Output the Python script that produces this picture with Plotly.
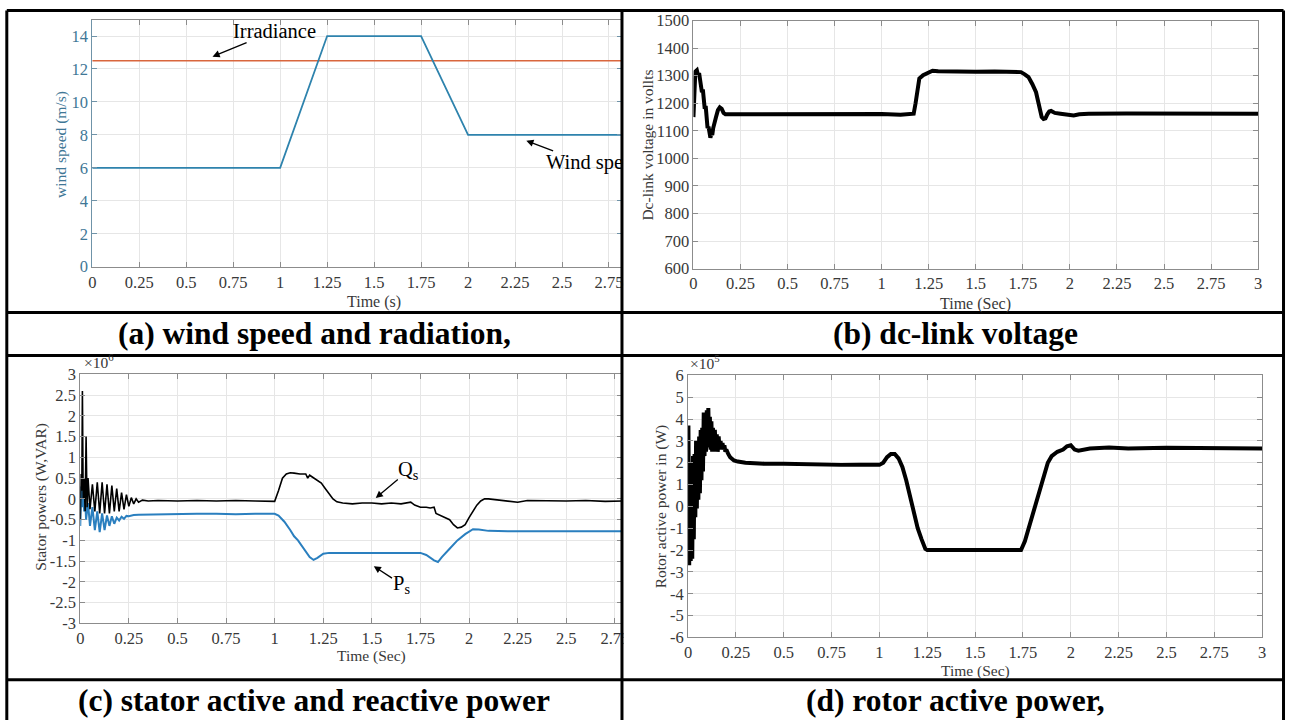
import plotly.graph_objects as go

W, H = 1292, 720

# ---------------- data ----------------
t_wind = [0, 1, 1.25, 1.75, 2, 3]
wind_speed = [6, 6, 14, 14, 8, 8]
t_irr = [0, 3]
irradiance = [12.5, 12.5]

t_vdc = [0, 0.005, 0.01, 0.018, 0.025, 0.03, 0.035, 0.04, 0.045, 0.05, 0.055, 0.06, 0.065,
         0.07, 0.075, 0.08, 0.085, 0.09, 0.095, 0.1, 0.105, 0.11, 0.12, 0.13, 0.14, 0.15,
         0.16, 0.17, 0.2, 0.4, 0.6, 0.8, 1.0, 1.1, 1.15, 1.17, 1.18, 1.19, 1.2, 1.22, 1.25,
         1.27, 1.3, 1.4, 1.5, 1.6, 1.7, 1.74, 1.76, 1.78, 1.8, 1.82, 1.83, 1.84, 1.85, 1.86,
         1.87, 1.88, 1.89, 1.9, 1.92, 1.95, 2.0, 2.02, 2.05, 2.1, 2.3, 2.5, 2.7, 2.9, 3.0]
v_dc = [1150, 1250, 1315, 1320, 1300, 1310, 1280, 1270, 1240, 1250, 1210, 1180, 1190,
        1140, 1110, 1115, 1080, 1075, 1090, 1085, 1110, 1120, 1150, 1175, 1185, 1180,
        1165, 1160, 1160, 1162, 1162, 1162, 1161, 1158, 1160, 1162, 1200, 1250, 1290, 1302, 1310,
        1318, 1316, 1314, 1314, 1315, 1315, 1313, 1305, 1295, 1270, 1240, 1210, 1180, 1150, 1143,
        1145, 1160, 1170, 1172, 1165, 1162, 1158, 1156, 1160, 1162, 1163, 1162, 1162, 1163, 1162]

t_q = [0, 0.004, 0.008, 0.011, 0.015, 0.02, 0.025, 0.03, 0.035, 0.04, 0.05, 0.0625, 0.075,
       0.0875, 0.1, 0.1125, 0.125, 0.1375, 0.15, 0.1625, 0.175, 0.1875, 0.2, 0.2125, 0.225,
       0.2375, 0.25, 0.2625, 0.275, 0.2875, 0.3, 0.32, 0.35, 0.4, 0.5, 0.6, 0.7, 0.8, 0.9,
       1.0, 1.02, 1.04, 1.06, 1.08, 1.1, 1.13, 1.16, 1.17, 1.18, 1.2, 1.22, 1.24, 1.26, 1.28,
       1.3, 1.32, 1.35, 1.4, 1.45, 1.5, 1.55, 1.6, 1.65, 1.7, 1.72, 1.75, 1.78, 1.8, 1.82,
       1.83, 1.86, 1.88, 1.9, 1.92, 1.94, 1.96, 1.98, 2.0, 2.02, 2.04, 2.06, 2.08, 2.1, 2.15,
       2.2, 2.25, 2.3, 2.4, 2.5, 2.6, 2.7, 2.8, 3.0]
q_s = [-0.5, 0.6, 0.2, 2.6, 0.0, 0.5, -0.3, 1.5, -0.2, 0.5, -0.25, 0.35, -0.3,
       0.4, -0.35, 0.4, -0.35, 0.35, -0.35, 0.32, -0.3, 0.25, -0.3, 0.15, -0.25,
       0.1, -0.18, 0.03, -0.12, 0.0, -0.08, -0.03, -0.05, -0.04, -0.05, -0.04, -0.05, -0.04, -0.05,
       -0.06, 0.2, 0.5, 0.6, 0.63, 0.62, 0.6, 0.6, 0.5, 0.57, 0.5, 0.45, 0.38, 0.25, 0.12,
       0.0, -0.07, -0.1, -0.12, -0.1, -0.1, -0.12, -0.1, -0.12, -0.08, -0.15, -0.2, -0.2, -0.22, -0.2,
       -0.35, -0.42, -0.45, -0.5, -0.62, -0.7, -0.68, -0.62, -0.45, -0.3, -0.15, -0.05, 0.0, 0.0, -0.03,
       -0.05, -0.08, -0.04, -0.05, -0.05, -0.04, -0.06, -0.05, -0.05]

t_p = [0, 0.005, 0.01, 0.015, 0.02, 0.025, 0.03, 0.04, 0.05, 0.0625, 0.075, 0.0875, 0.1,
       0.1125, 0.125, 0.1375, 0.15, 0.1625, 0.175, 0.1875, 0.2, 0.2125, 0.225, 0.2375, 0.25,
       0.275, 0.3, 0.4, 0.5, 0.6, 0.7, 0.8, 0.9, 1.0, 1.02, 1.05, 1.08, 1.1, 1.12, 1.15, 1.18,
       1.2, 1.22, 1.25, 1.28, 1.35, 1.5, 1.6, 1.7, 1.75, 1.78, 1.82, 1.84, 1.86, 1.9, 1.94,
       1.98, 2.0, 2.02, 2.05, 2.1, 2.2, 2.5, 3.0]
p_s = [-0.65, 0.3, -0.2, 0.2, -0.3, 0.0, -0.5, -0.1, -0.65, -0.2, -0.75, -0.3, -0.8,
       -0.35, -0.75, -0.4, -0.65, -0.42, -0.6, -0.45, -0.52, -0.43, -0.48, -0.41, -0.42,
       -0.39, -0.38, -0.37, -0.36, -0.36, -0.36, -0.37, -0.36, -0.36, -0.4, -0.55, -0.75, -0.9, -1.0, -1.2, -1.4,
       -1.47, -1.42, -1.32, -1.3, -1.3, -1.3, -1.3, -1.3, -1.3, -1.35, -1.48, -1.52, -1.4, -1.2, -1.0,
       -0.85, -0.78, -0.73, -0.74, -0.77, -0.78, -0.78, -0.78]

t_rot = [0, 0.002, 0.006, 0.01, 0.014, 0.018, 0.022, 0.026, 0.03, 0.034, 0.038, 0.042, 0.046,
         0.05, 0.054, 0.058, 0.062, 0.066, 0.07, 0.074, 0.078, 0.082, 0.086, 0.09, 0.094, 0.098,
         0.102, 0.106, 0.11, 0.114, 0.118, 0.122, 0.126, 0.13, 0.135, 0.14, 0.145, 0.15, 0.155,
         0.16, 0.165, 0.17, 0.175, 0.18, 0.185, 0.19, 0.195, 0.2, 0.21, 0.22, 0.24, 0.26, 0.3,
         0.4, 0.5, 0.6, 0.7, 0.8, 0.9, 1.0, 1.02, 1.04, 1.06, 1.08, 1.1,
         1.12, 1.14, 1.16, 1.18, 1.2, 1.22, 1.24, 1.25, 1.3, 1.4, 1.5, 1.6, 1.7, 1.74, 1.76,
         1.78, 1.8, 1.82, 1.84, 1.86, 1.88, 1.9, 1.93, 1.96, 1.98, 2.0, 2.02, 2.04, 2.07, 2.1,
         2.2, 2.3, 2.5, 2.7, 2.9, 3.0]
p_rot = [-1.3, 3.7, -2.7, 2.0, -2.5, 2.0, -2.4, 2.3, -1.5, 2.4, -0.5, 3.0, -0.1,
         3.0, 0.3, 3.2, 0.6, 3.5, 1.2, 3.6, 1.6, 4.3, 2.3, 4.3, 2.5, 4.4,
         2.7, 4.5, 2.7, 4.1, 2.6, 3.9, 2.5, 3.6, 2.5, 3.5, 2.5, 3.3, 2.5,
         3.2, 2.6, 3.0, 2.6, 2.9, 2.6, 2.8, 2.5, 2.6, 2.4, 2.25, 2.1, 2.05, 2.0,
         1.95, 1.95, 1.92, 1.9, 1.9, 1.9, 1.9, 2.0, 2.25, 2.4, 2.4, 2.2,
         1.8, 1.2, 0.5, -0.3, -1.0, -1.5, -1.95, -2.0, -2.0, -1.98, -2.0, -2.0, -2.0, -2.0, -1.6,
         -1.0, -0.3, 0.3, 0.9, 1.5, 2.0, 2.3, 2.5, 2.6, 2.75, 2.8, 2.6, 2.55, 2.6, 2.65,
         2.7, 2.65, 2.68, 2.65, 2.65, 2.65]

time_ticks = [0, 0.25, 0.5, 0.75, 1, 1.25, 1.5, 1.75, 2, 2.25, 2.5, 2.75, 3]
time_labels = ["0", "0.25", "0.5", "0.75", "1", "1.25", "1.5", "1.75", "2", "2.25", "2.5", "2.75", "3"]
wind_ticks = [0, 2, 4, 6, 8, 10, 12, 14]
vdc_ticks = [600, 700, 800, 900, 1000, 1100, 1200, 1300, 1400, 1500]
stator_ticks = [-3, -2.5, -2, -1.5, -1, -0.5, 0, 0.5, 1, 1.5, 2, 2.5, 3]
stator_labels = ["-3", "-2.5", "-2", "-1.5", "-1", "-0.5", "0", "0.5", "1", "1.5", "2", "2.5", "3"]
rotor_ticks = [-6, -5, -4, -3, -2, -1, 0, 1, 2, 3, 4, 5, 6]
rotor_labels = ["-6", "-5", "-4", "-3", "-2", "-1", "0", "1", "2", "3", "4", "5", "6"]

captions = ["(a) wind speed and radiation,", "(b) dc-link voltage",
            "(c) stator active and reactive power", "(d) rotor active power,"]

# ---------------- styling helpers ----------------
SERIF = "Liberation Serif, Times New Roman, serif"
TICKCOL = "#383838"
AXCOL = "#8c8c8c"
GRIDCOL = "#e6e6e6"
BLUE_AX = "#3f7796"

# mapping from target-picture pixels to figure pixels (compensates the viewer's framing)
SX, BX = 0.992, 3.2
SY, BY = 0.977, 7.4


def fx(px):
    return ((px - BX) / SX) / W


def fy(py):
    return 1 - ((py - BY) / SY) / H


def axis(domain, rng, tickvals, ticktext, anchor, color=TICKCOL, linecolor=AXCOL):
    return dict(domain=domain, range=rng, tickmode="array", tickvals=tickvals,
                ticktext=ticktext, anchor=anchor, showgrid=True, gridcolor=GRIDCOL,
                gridwidth=1, zeroline=False, showline=True, linecolor=linecolor,
                linewidth=1, mirror="allticks", ticks="inside", ticklen=5,
                tickcolor=linecolor, tickfont=dict(family=SERIF, size=16.5, color=color),
                fixedrange=True)


fig = go.Figure()

# panel a
fig.add_trace(go.Scatter(x=t_irr, y=irradiance, mode="lines", line=dict(color="#d9663d", width=1.6),
                         xaxis="x", yaxis="y", showlegend=False))
fig.add_trace(go.Scatter(x=t_wind, y=wind_speed, mode="lines", line=dict(color="#2e83ad", width=1.8),
                         xaxis="x", yaxis="y", showlegend=False))
# panel b
fig.add_trace(go.Scatter(x=t_vdc, y=v_dc, mode="lines", line=dict(color="black", width=4),
                         xaxis="x2", yaxis="y2", showlegend=False))
# panel c
fig.add_trace(go.Scatter(x=t_p, y=p_s, mode="lines", line=dict(color="#2a7fbf", width=2),
                         xaxis="x3", yaxis="y3", showlegend=False))
fig.add_trace(go.Scatter(x=t_q, y=q_s, mode="lines", line=dict(color="black", width=1.6),
                         xaxis="x3", yaxis="y3", showlegend=False))
# panel d
fig.add_trace(go.Scatter(x=t_rot, y=p_rot, mode="lines", line=dict(color="black", width=4),
                         xaxis="x4", yaxis="y4", showlegend=False))

# x-range ends where each left-hand axis meets the cell divider
a_end = 3 * (622 - 91.5) / (655.5 - 91.5)
c_end = 3 * (622 - 79.5) / (663 - 79.5)

layout = dict(
    width=W, height=H, margin=dict(l=0, r=0, t=0, b=0),
    paper_bgcolor="white", plot_bgcolor="white", showlegend=False,
    xaxis=axis([fx(91.5), fx(622)], [0, a_end], time_ticks, time_labels, "y"),
    yaxis=axis([fy(266), fy(18)], [0, 15], wind_ticks, [str(v) for v in wind_ticks], "x",
               color=BLUE_AX, linecolor="#6f93a8"),
    xaxis2=axis([fx(693), fx(1258)], [0, 3], time_ticks, time_labels, "y2"),
    yaxis2=axis([fy(268), fy(19)], [600, 1500], vdc_ticks, [str(v) for v in vdc_ticks], "x2"),
    xaxis3=axis([fx(79.5), fx(622)], [0, c_end], time_ticks, time_labels, "y3"),
    yaxis3=axis([fy(624), fy(374)], [-3, 3], stator_ticks, stator_labels, "x3"),
    xaxis4=axis([fx(687.6), fx(1262)], [0, 3], time_ticks, time_labels, "y4"),
    yaxis4=axis([fy(638), fy(375)], [-6, 6], rotor_ticks, rotor_labels, "x4"),
)
fig.update_layout(**layout)

ann = []


def txt(x, y, text, size=16, color=TICKCOL, angle=0, bold=False, xanchor="center", yanchor="middle"):
    if bold:
        text = "<b>" + text + "</b>"
    ann.append(dict(x=fx(x), y=fy(y), xref="paper", yref="paper", text=text, showarrow=False,
                    textangle=angle, xanchor=xanchor, yanchor=yanchor,
                    font=dict(family=SERIF, size=size, color=color)))


# axis titles
txt(373, 301, "Time (s)", 16)
txt(60, 143, "wind speed (m/s)", 15.5, color=BLUE_AX, angle=-90)
txt(975.5, 303, "Time (Sec)", 16)
txt(647, 144, "Dc-link voltage in vollts", 15.5, angle=-90)
txt(371, 657, "Time (Sec)", 15.5)
txt(40, 497, "Stator powers (W,VAR)", 15.5, angle=-90)
txt(975, 672, "Time (Sec)", 15.5)
txt(660, 506, "Rotor active power in (W)", 15.5, angle=-90)
# exponents
txt(81, 373, "×10<sup>6</sup>", 15.5, xanchor="left", yanchor="bottom")
txt(688, 374, "×10<sup>5</sup>", 15.5, xanchor="left", yanchor="bottom")

# captions
txt(313.5, 333, captions[0], 31.5, color="black", bold=True)
txt(955.5, 333, captions[1], 31.5, color="black", bold=True)
txt(313.5, 701, captions[2], 31.5, color="black", bold=True)
txt(955.5, 701, captions[3], 31.5, color="black", bold=True)


def arrow_label(xr, yr, tip_x, tip_y, text_x, text_y, text):
    ann.append(dict(x=tip_x, y=tip_y, ax=text_x, ay=text_y, xref=xr, yref=yr, axref=xr, ayref=yr,
                    text=text, showarrow=True, arrowhead=2, arrowsize=1.1, arrowwidth=1.3,
                    arrowcolor="black", borderpad=0,
                    font=dict(family=SERIF, size=20.5, color="black")))


# panel a labels
arrow_label("x", "y", 0.64, 12.75, 0.97, 14.3, "Irradiance")
arrow_label("x", "y", 2.31, 7.65, 2.62, 6.3, "Wind spe")
# panel c labels
arrow_label("x3", "y3", 1.52, 0.02, 1.69, 0.69, "Q<sub>s</sub>")
arrow_label("x3", "y3", 1.51, -1.62, 1.65, -2.05, "P<sub>s</sub>")

fig.update_layout(annotations=ann)

# white masks to clip overflow into neighbouring cells, then table borders
shapes = []
for (y0, y1) in [(10, 311), (357, 679)]:
    shapes.append(dict(type="rect", xref="paper", yref="paper", x0=fx(623), x1=fx(649),
                       y0=fy(y1), y1=fy(y0), fillcolor="white", line=dict(width=0), layer="above"))
BORDER = dict(color="black", width=3)
top_y = min(fy(8), 1 - 1.5 / H)
right_x = min(fx(1289), 1 - 1.5 / W)
for xv in [fx(6), fx(621.5), right_x]:
    shapes.append(dict(type="line", xref="paper", yref="paper", x0=xv, x1=xv,
                       y0=top_y, y1=-0.05, line=BORDER, layer="above"))
for yv in [top_y, fy(312), fy(355), fy(680.5)]:
    shapes.append(dict(type="line", xref="paper", yref="paper", x0=fx(6), x1=right_x,
                       y0=yv, y1=yv, line=BORDER, layer="above"))
fig.update_layout(shapes=shapes)

POST = ("var d=document.getElementById('{plot_id}');"
        "document.documentElement.style.margin='0';document.documentElement.style.padding='0';"
        "document.documentElement.style.overflow='hidden';"
        "document.body.style.margin='0';document.body.style.padding='0';"
        "document.body.style.overflow='hidden';"
        "d.style.position='fixed';d.style.left='0px';d.style.top='0px';")

fig.write_html("out.html", config={"displayModeBar": False}, post_script=POST)
